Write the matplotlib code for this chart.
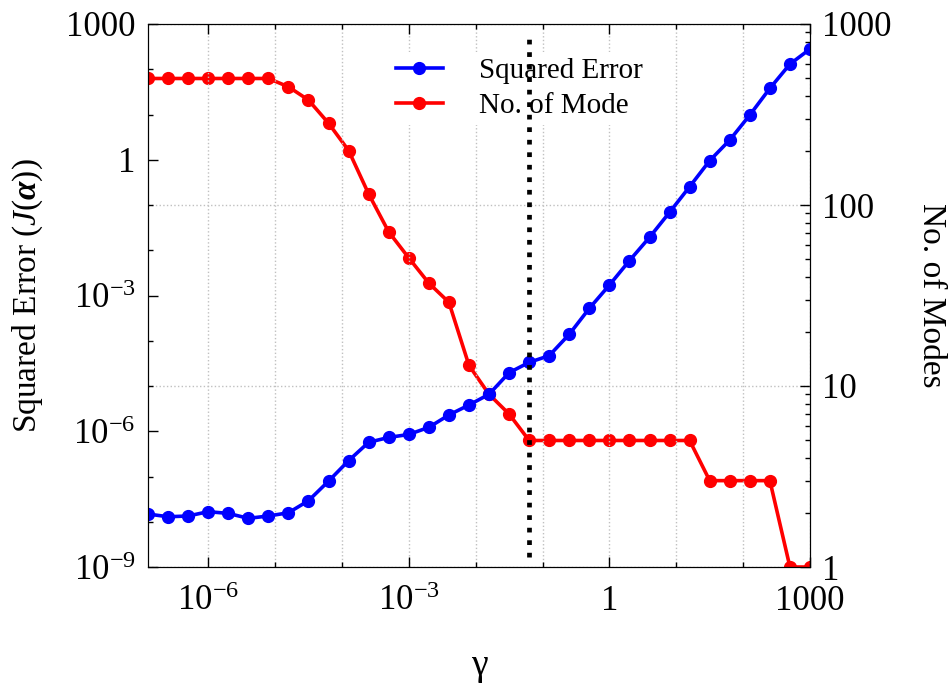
import numpy as np
import matplotlib
matplotlib.use('Agg')
import matplotlib.pyplot as plt
from matplotlib.ticker import FixedLocator, FuncFormatter, NullFormatter

plt.rcParams['font.family'] = ['Liberation Serif', 'DejaVu Serif']
plt.rcParams['mathtext.fontset'] = 'custom'
plt.rcParams['mathtext.rm'] = 'Liberation Serif'
plt.rcParams['mathtext.it'] = 'Liberation Serif:italic'
plt.rcParams['mathtext.bf'] = 'Liberation Serif:bold:italic'

# gamma sweep (log10 of gamma)
gamma_exp = [-6.9, -6.6, -6.3, -6.0, -5.7, -5.4, -5.1, -4.8, -4.5, -4.2,
             -3.9, -3.6, -3.3, -3.0, -2.7, -2.4, -2.1, -1.8, -1.5, -1.2,
             -0.9, -0.6, -0.3, 0.0, 0.3, 0.6, 0.9, 1.2, 1.5, 1.8,
             2.1, 2.4, 2.7, 3.0]
gamma = [10.0**e for e in gamma_exp]

sq_error = [1.48e-8, 1.29e-8, 1.34e-8, 1.67e-8, 1.53e-8, 1.19e-8, 1.34e-8, 1.58e-8, 2.92e-8, 7.9e-8,
            2.24e-7, 5.7e-7, 7.3e-7, 8.5e-7, 1.22e-6, 2.29e-6, 3.8e-6, 6.56e-6, 1.97e-5, 3.33e-5,
            4.68e-5, 1.39e-4, 5.2e-4, 1.7e-3, 5.9e-3, 0.0193, 0.069, 0.254, 0.955, 2.73,
            9.75, 37.9, 130, 280]

n_modes = [500, 500, 500, 500, 500, 500, 500, 450, 380, 283,
           200, 115, 71, 51, 37, 29, 13, 9, 7, 5,
           5, 5, 5, 5, 5, 5, 5, 5, 3, 3,
           3, 3, 1, 1]

gamma_sel = 10.0**-1.2   # chosen gamma (dotted line)

left_ticks = [1e-9, 1e-6, 1e-3, 1, 1e3]
right_ticks = [1, 10, 100, 1000]
x_ticks = [1e-6, 1e-3, 1, 1e3]


def logfmt(v, pos):
    e = int(round(np.log10(v)))
    if e >= 0:
        return '%d' % round(v)
    return r'$10^{%d}$' % e


fig = plt.figure(figsize=(9.48, 6.9), dpi=100)
ax = fig.add_axes([148/948, 1-567/690, 662/948, 543/690])
ax2 = ax.twinx()
ax.set_zorder(ax2.get_zorder()+1)
ax.patch.set_visible(False)

l1, = ax.plot(gamma, sq_error, '-o', color='blue', lw=2.6, ms=8.5, label='Squared Error')
l2, = ax2.plot(gamma, n_modes, '-o', color='red', lw=2.6, ms=8.5, label='No. of Mode')

ax.set_xscale('log')
ax.set_yscale('log')
ax2.set_yscale('log')
ax.set_xlim(gamma[0], gamma[-1])
ax.set_ylim(left_ticks[0], left_ticks[-1])
ax2.set_ylim(right_ticks[0], right_ticks[-1])

ax.axvline(gamma_sel, ymin=0.018, ymax=0.983, color='k', ls=':', lw=3.4, zorder=10)

ax.xaxis.set_major_locator(FixedLocator(x_ticks))
ax.xaxis.set_minor_locator(FixedLocator([10.0**e for e in range(-7, 4)]))
ax.xaxis.set_major_formatter(FuncFormatter(logfmt))
ax.xaxis.set_minor_formatter(NullFormatter())
ax.yaxis.set_major_locator(FixedLocator(left_ticks))
ax.yaxis.set_minor_locator(FixedLocator([10.0**e for e in range(-9, 4)]))
ax.yaxis.set_major_formatter(FuncFormatter(logfmt))
ax.yaxis.set_minor_formatter(NullFormatter())
ax2.yaxis.set_major_locator(FixedLocator(right_ticks))
ax2.yaxis.set_minor_locator(FixedLocator([m*10.0**e for e in range(0, 3) for m in range(2, 10)]))
ax2.yaxis.set_major_formatter(FuncFormatter(logfmt))
ax2.yaxis.set_minor_formatter(NullFormatter())

ax.tick_params(which='both', direction='in', top=True, right=False, labelsize=25, pad=9)
ax.tick_params(axis='x', which='both', pad=13)
ax.tick_params(which='major', length=7, width=1)
ax.tick_params(which='minor', length=3.5, width=1)
ax2.tick_params(which='both', direction='in', labelsize=25, pad=9)
ax2.tick_params(which='major', length=7, width=1)
ax2.tick_params(which='minor', length=3.5, width=1)

ax.grid(True, which='both', axis='x', ls=':', color='#c0c0c0', lw=1)
ax2.grid(True, which='major', axis='y', ls=':', color='#c0c0c0', lw=1)

ax.set_ylabel(r'Squared Error $(J(\mathbf{\alpha}))$', fontsize=24, va='center')
ax.yaxis.set_label_coords(-0.181, 0.5)
ax2.set_ylabel('No. of Modes', fontsize=24, rotation=270, va='center')
ax2.yaxis.set_label_coords(1.183, 0.5)
ax.set_xlabel('γ', fontsize=27, va='center')
ax.xaxis.set_label_coords(0.5, -0.181)

ax.legend([l1, l2], [l1.get_label(), l2.get_label()], loc='upper left',
          bbox_to_anchor=(390/948, 1-52/690), bbox_transform=fig.transFigure,
          frameon=True, fancybox=False, edgecolor='none', facecolor='white', framealpha=1,
          fontsize=21, handlelength=1.6, handletextpad=1.25, borderpad=0.2,
          labelspacing=0.3, borderaxespad=0)

fig.savefig('out.png', dpi=100)
